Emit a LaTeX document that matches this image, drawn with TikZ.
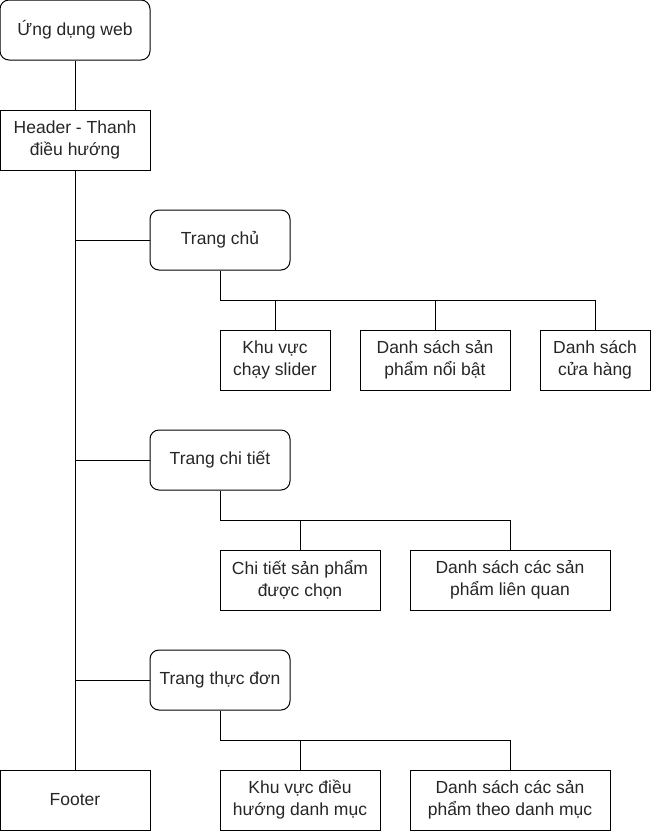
\documentclass[tikz,border=0pt]{standalone}
\usepackage{fontspec}
\setmainfont{Liberation Sans}
\usetikzlibrary{positioning,calc}

\begin{document}
\begin{tikzpicture}[x=1pt,y=-1pt,line width=1pt,
  box/.style={draw,minimum height=60pt,align=center,text=black!85,
    font=\fontsize{17.5}{22}\selectfont,inner sep=2pt},
  rbox/.style={box,rounded corners=9pt}]
\useasboundingbox (0,0) rectangle (651,831);
% Top of the tree
\node[rbox,minimum width=150pt] (app) at (75,30) {Ứng dụng web};
\node[box,minimum width=150pt] (header) at (75,140) {Header - Thanh\\điều hướng};
\node[box,minimum width=150pt] (footer) at (75,800) {Footer};
% Pages
\node[rbox,minimum width=140pt] (home) at (220,240) {Trang chủ};
\node[rbox,minimum width=140pt] (detail) at (220,460) {Trang chi tiết};
\node[rbox,minimum width=140pt] (menu) at (220,680) {Trang thực đơn};
% Parts of the home page
\node[box,minimum width=110pt] (slider) at (275,360) {Khu vực\\chạy slider};
\node[box,minimum width=150pt] (hot) at (435,360) {Danh sách sản\\phẩm nổi bật};
\node[box,minimum width=110pt] (store) at (595,360) {Danh sách\\cửa hàng};
% Parts of the detail page
\node[box,minimum width=160pt] (chosen) at (300,580) {Chi tiết sản phẩm\\được chọn};
\node[box,minimum width=200pt] (related) at (510,580) {Danh sách các sản\\phẩm liên quan};
% Parts of the menu page
\node[box,minimum width=160pt] (catnav) at (300,800) {Khu vực điều\\hướng danh mục};
\node[box,minimum width=200pt] (bycat) at (510,800) {Danh sách các sản\\phẩm theo danh mục};
% Trunk
\draw (app) -- (header);
\draw (header) -- (footer);
\draw (home.west) -- (home.west -| header.south);
\draw (detail.west) -- (detail.west -| header.south);
\draw (menu.west) -- (menu.west -| header.south);
% Branches of the pages
\draw (home.south) -- ++(0,30) coordinate (homebus) -| (store.north);
\draw (slider.north) -- (slider.north |- homebus);
\draw (hot.north) -- (hot.north |- homebus);
\draw (detail.south) -- ++(0,30) coordinate (detailbus) -| (related.north);
\draw (chosen.north) -- (chosen.north |- detailbus);
\draw (menu.south) -- ++(0,30) coordinate (menubus) -| (bycat.north);
\draw (catnav.north) -- (catnav.north |- menubus);
\end{tikzpicture}
\end{document}
